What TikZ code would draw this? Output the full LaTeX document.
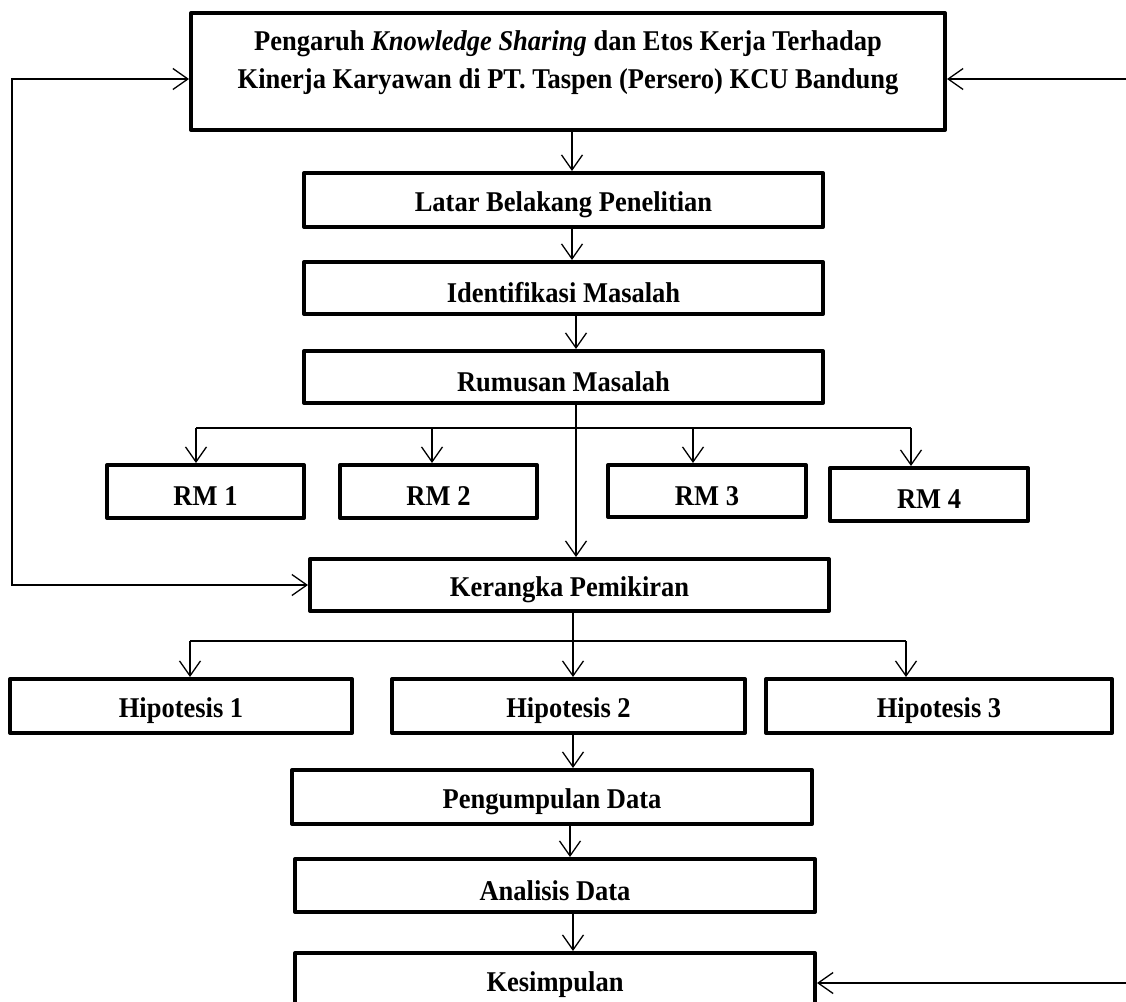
\documentclass[tikz,border=0pt]{standalone}
\usepackage{fontspec}
\setmainfont{Liberation Serif}
\usetikzlibrary{arrows.meta}
\newcommand\bxtxt[1]{\raisebox{-5pt}[\height][\depth]{\scalebox{1}[1.08]{#1}}}
\begin{document}
\begin{tikzpicture}[x=1pt,y=-1pt,
  box/.style={draw, line width=4pt, line join=round, inner sep=0pt,
    font=\fontsize{26.5}{32}\selectfont\bfseries},
  conn/.style={line width=1.3pt},
  arr/.style={line width=1.3pt, -{Straight Barb[length=15pt,width=21pt]}},
  arr2/.style={line width=1.3pt, {Straight Barb[length=15pt,width=21pt]}-{Straight Barb[length=15pt,width=21pt]}}
]
\useasboundingbox (0,0) rectangle (1126,1001);
\clip (0,0) rectangle (1126,1001);

% boxes
\node[box, minimum width=754pt, minimum height=117pt] (top) at (568,71.5) {};
\node[font=\fontsize{26.5}{38}\selectfont\bfseries, align=center, inner sep=0pt] (toptext) at (568,63)
  {\scalebox{1}[1.08]{Pengaruh \textit{Knowledge Sharing} dan Etos Kerja Terhadap}\\\scalebox{1}[1.08]{Kinerja Karyawan di PT. Taspen (Persero) KCU Bandung}};
\node[box, minimum width=519pt, minimum height=54pt] (latar) at (563.5,200) {\bxtxt{Latar Belakang Penelitian}};
\node[box, minimum width=519pt, minimum height=52pt] (ident) at (563.5,288) {\bxtxt{Identifikasi Masalah}};
\node[box, minimum width=519pt, minimum height=52pt] (rumus) at (563.5,377) {\bxtxt{Rumusan Masalah}};
\node[box, minimum width=197pt, minimum height=53pt] (rm1) at (205.5,491.5) {\bxtxt{RM 1}};
\node[box, minimum width=197pt, minimum height=53pt] (rm2) at (438.5,491.5) {\bxtxt{RM 2}};
\node[box, minimum width=198pt, minimum height=52pt] (rm3) at (707,491) {\bxtxt{RM 3}};
\node[box, minimum width=198pt, minimum height=53pt] (rm4) at (929,494.5) {\bxtxt{RM 4}};
\node[box, minimum width=519pt, minimum height=52pt] (kerangka) at (569.5,585) {\bxtxt{Kerangka Pemikiran}};
\node[box, minimum width=342pt, minimum height=54pt] (hip1) at (181,706) {\bxtxt{Hipotesis 1}};
\node[box, minimum width=353pt, minimum height=54pt] (hip2) at (568.5,706) {\bxtxt{Hipotesis 2}};
\node[box, minimum width=346pt, minimum height=54pt] (hip3) at (939,706) {\bxtxt{Hipotesis 3}};
\node[box, minimum width=520pt, minimum height=54pt] (peng) at (552,797) {\bxtxt{Pengumpulan Data}};
\node[box, minimum width=520pt, minimum height=53pt] (anal) at (555,885.5) {\bxtxt{Analisis Data}};
\node[box, minimum width=520pt, minimum height=53pt] (kes) at (555,979.5) {\bxtxt{Kesimpulan}};

% helper coordinates
\coordinate (s1) at (572,0);
\coordinate (s2) at (576,0);
\coordinate (s3) at (573,0);
\coordinate (s4) at (570,0);
\coordinate (b1) at (196,428);
\coordinate (b2) at (432,428);
\coordinate (b3) at (693,428);
\coordinate (b4) at (911,428);
\coordinate (h1) at (190,641);
\coordinate (h3) at (906,641);
\coordinate (la) at (12,79);
\coordinate (ra) at (1126,79);
\coordinate (rk) at (1126,983);

% spine
\draw[arr] (top.south -| s1) -- (latar.north -| s1);
\draw[arr] (latar.south -| s1) -- (ident.north -| s1);
\draw[arr] (ident.south -| s2) -- (rumus.north -| s2);
\draw[arr] (rumus.south -| s2) -- (kerangka.north -| s2);

% RM branch
\draw[conn] (b1) -- (b4);
\draw[arr] (b1) -- (b1 |- rm1.north);
\draw[arr] (b2) -- (b2 |- rm2.north);
\draw[arr] (b3) -- (b3 |- rm3.north);
\draw[arr] (b4) -- (b4 |- rm4.north);

% hypothesis branch
\draw[arr] (kerangka.south -| s3) -- (hip2.north -| s3);
\draw[conn] (h1) -- (h3);
\draw[arr] (h1) -- (h1 |- hip1.north);
\draw[arr] (h3) -- (h3 |- hip3.north);

% lower spine
\draw[arr] (hip2.south -| s3) -- (peng.north -| s3);
\draw[arr] (peng.south -| s4) -- (anal.north -| s4);
\draw[arr] (anal.south -| s3) -- (kes.north -| s3);

% loops
\draw[arr2] (top.west |- la) -- (la) |- (kerangka.west);
\draw[arr] (ra) -- (top.east |- ra);
\draw[arr] (rk) -- (kes.east |- rk);
\end{tikzpicture}
\end{document}
